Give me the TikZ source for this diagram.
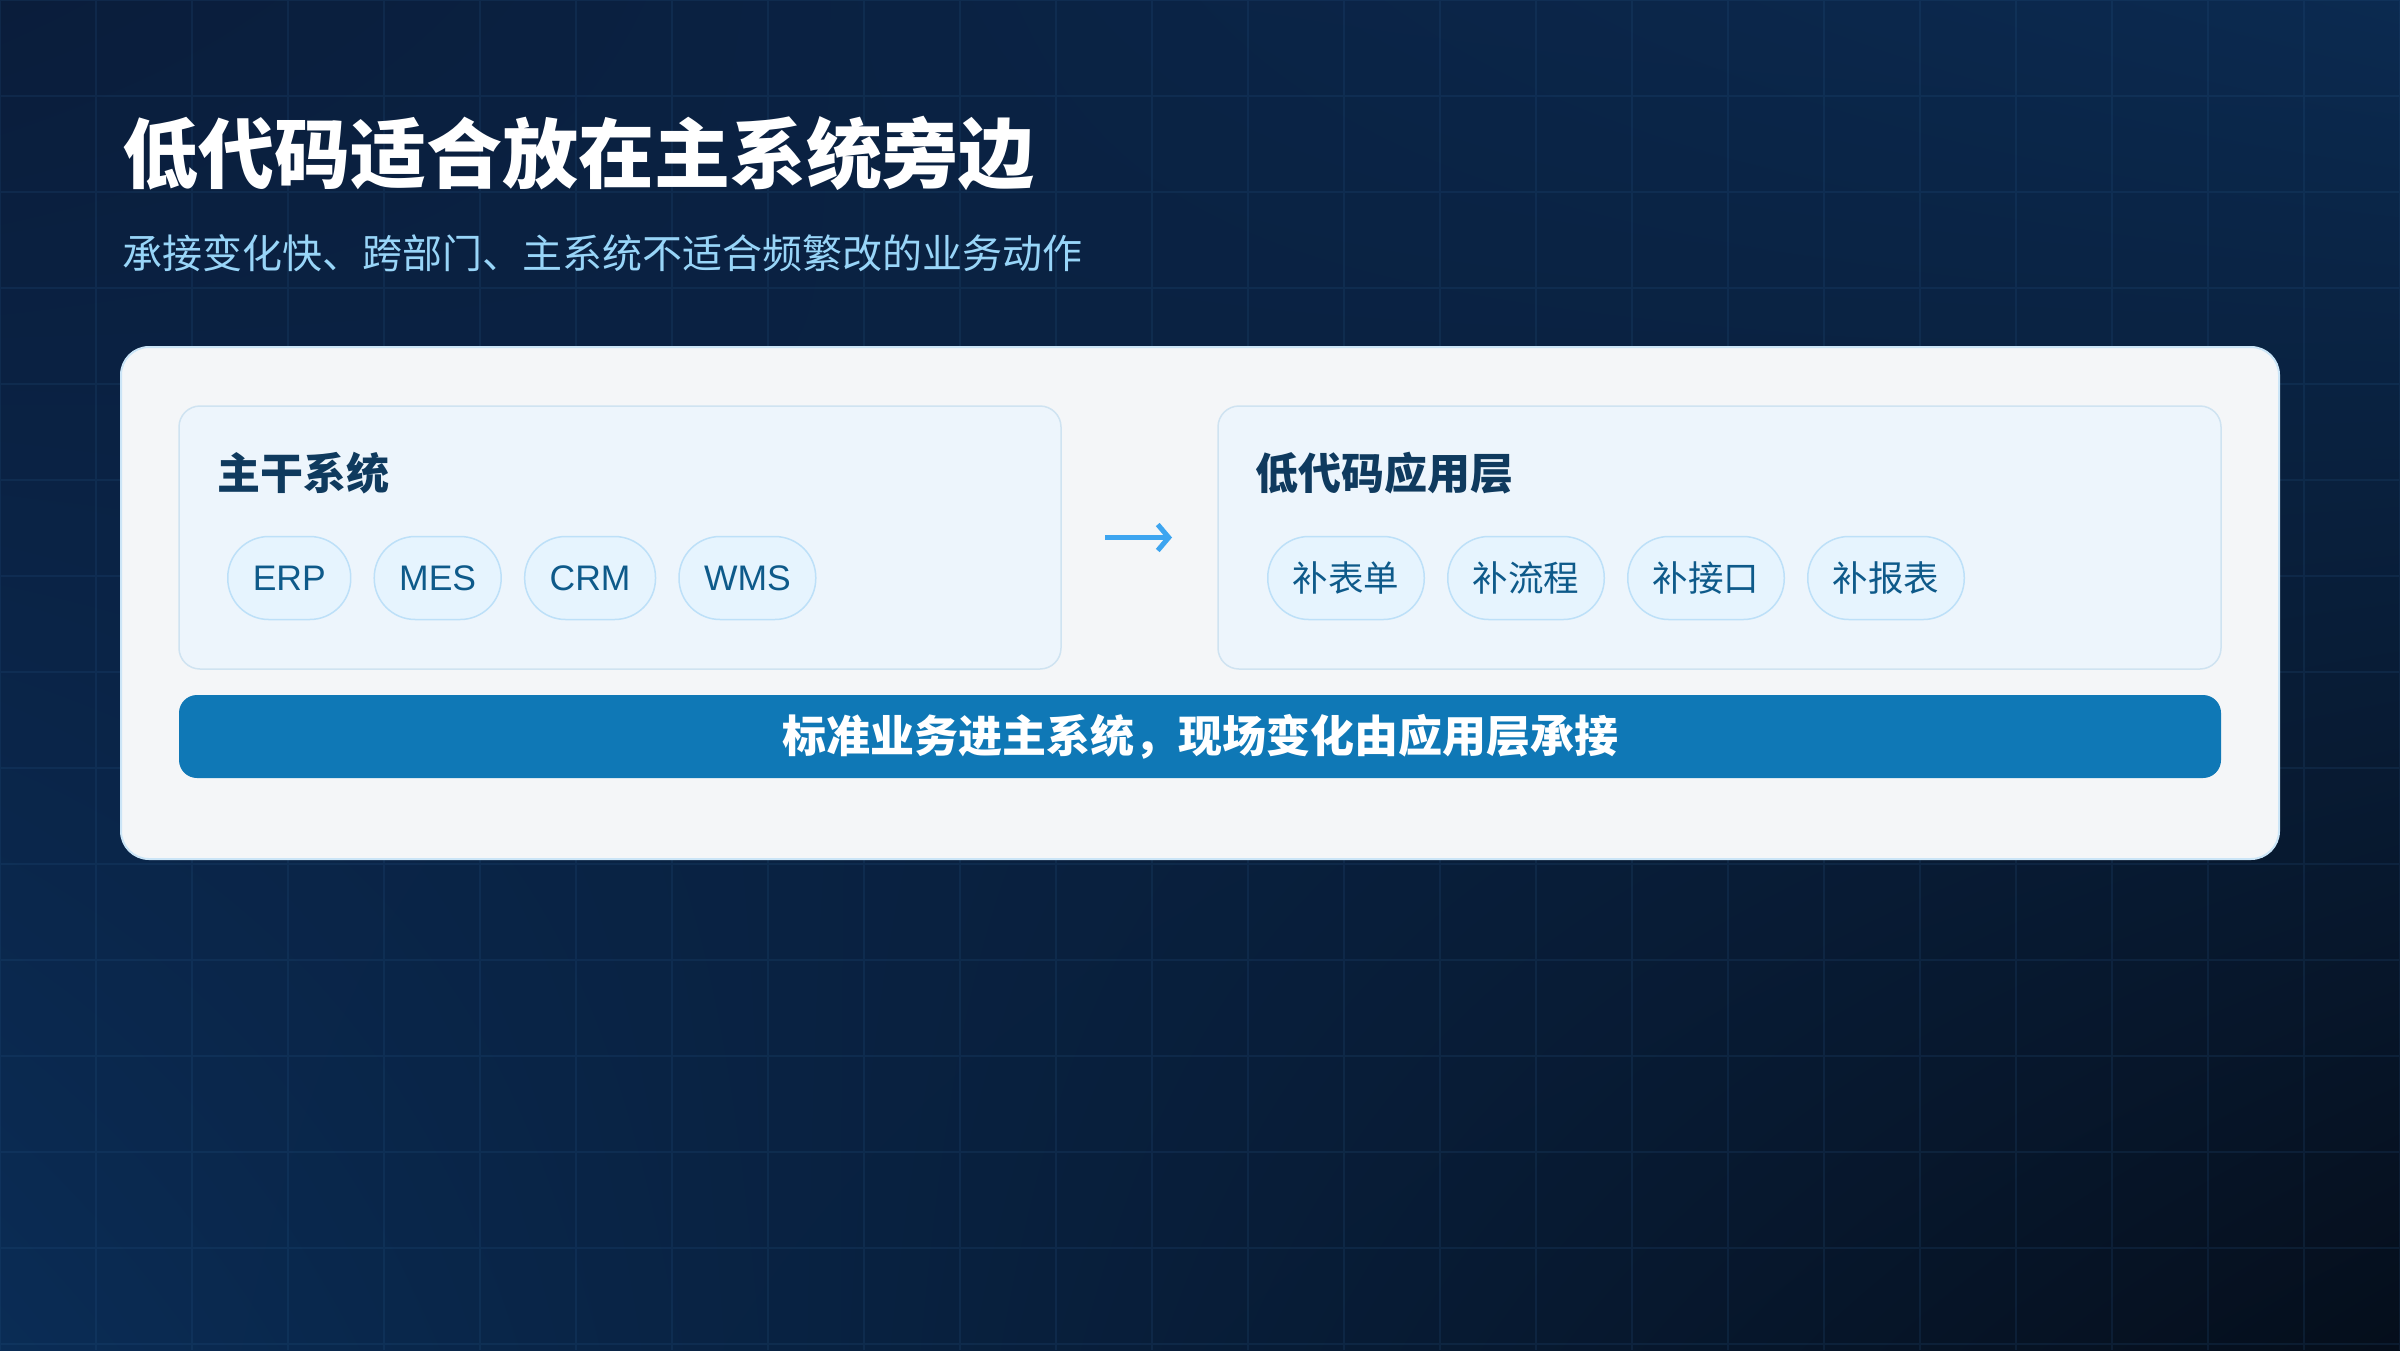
\documentclass[tikz,border=0pt]{standalone}
\usepackage{fontspec}
\setmainfont{Noto Sans CJK SC}
\newfontfamily\latinfont{Liberation Sans}
\usetikzlibrary{positioning,arrows.meta,shadings}

\definecolor{bgTL}{HTML}{0A1D3B}
\definecolor{bgTR}{HTML}{0B2A50}
\definecolor{bgBL}{HTML}{0A2C55}
\definecolor{bgBR}{HTML}{050E1B}
\definecolor{gridcol}{HTML}{2A5A8A}
\definecolor{subblue}{HTML}{98D5F8}
\definecolor{cardbg}{HTML}{F4F6F8}
\definecolor{cardline}{HTML}{CBE5F7}
\definecolor{panelbg}{HTML}{EDF5FC}
\definecolor{panelline}{HTML}{CFE3F1}
\definecolor{pillbg}{HTML}{E6F4FE}
\definecolor{pillline}{HTML}{BDE0F8}
\definecolor{pilltext}{HTML}{0E5A8A}
\definecolor{navy}{HTML}{0F3A5E}
\definecolor{arrowblue}{HTML}{3DA5F0}
\definecolor{barblue}{HTML}{0F78B6}

\tikzset{
  card/.style={draw=cardline, line width=2pt, fill=cardbg, rounded corners=28pt,
    inner sep=0pt, outer sep=0pt},
  panel/.style={draw=panelline, line width=1.5pt, fill=panelbg, rounded corners=21pt,
    inner sep=0pt, outer sep=0pt, minimum height=263pt},
  pill/.style={draw=pillline, line width=1.5pt, fill=pillbg, rounded corners=41pt,
    minimum height=83pt, inner xsep=25pt, inner ysep=0pt, text=pilltext,
    font=\fontsize{35.5}{40}\selectfont},
  ptitle/.style={anchor=west, inner sep=0pt, text=navy,
    font=\bfseries\fontsize{43}{48}\selectfont},
  banner/.style={fill=barblue, rounded corners=18pt, inner sep=0pt, minimum height=83pt,
    text=white, font=\bfseries\fontsize{44}{48}\selectfont},
  flow/.style={draw=arrowblue, line width=5pt, -{Straight Barb[length=11pt,width=26pt]}}
}

\begin{document}
\begin{tikzpicture}[x=1pt, y=-1pt, node distance=22pt]

  \useasboundingbox (0,0) rectangle (2400,1350);
  \shade[upper left=bgTL, upper right=bgTR, lower left=bgBL, lower right=bgBR]
    (0,0) rectangle (2400,1350);
  \draw[gridcol, opacity=0.18, line width=1.5pt] (0,1350) grid[step=96pt] (2400,0);

  \node[anchor=west, inner sep=0pt, text=white, font=\bfseries\fontsize{76}{80}\selectfont]
    (title) at (122,153) {低代码适合放在主系统旁边};
  \node[anchor=west, inner sep=0pt, text=subblue, font=\fontsize{40}{44}\selectfont]
    (subtitle) at (122,253) {承接变化快、跨部门、主系统不适合频繁改的业务动作};

  \node[card, minimum width=2158pt, minimum height=512pt] (card) at (1200,603) {};

  \node[panel, minimum width=882pt] (sys) at (620,537.5) {};
  \node[ptitle] (systitle) at (217,473) {主干系统};
  \node[pill, anchor=west] (erp) at (227,578) {\latinfont ERP};
  \node[pill, right=of erp] (mes) {\latinfont MES};
  \node[pill, right=of mes] (crm) {\latinfont CRM};
  \node[pill, right=of crm] (wms) {\latinfont WMS};

  \node[panel, minimum width=1003pt] (low) at (1719.5,537.5) {};
  \node[ptitle] (lowtitle) at (1255,473) {低代码应用层};
  \node[pill, anchor=west] (form) at (1267,578) {补表单};
  \node[pill, right=of form] (proc) {补流程};
  \node[pill, right=of proc] (api) {补接口};
  \node[pill, right=of api] (report) {补报表};

  \draw[flow, shorten <=44pt, shorten >=46pt] (sys) -- (low);

  \node[banner, minimum width=2042pt] (bar) at (1200,736.5) {标准业务进主系统，现场变化由应用层承接};

\end{tikzpicture}
\end{document}
